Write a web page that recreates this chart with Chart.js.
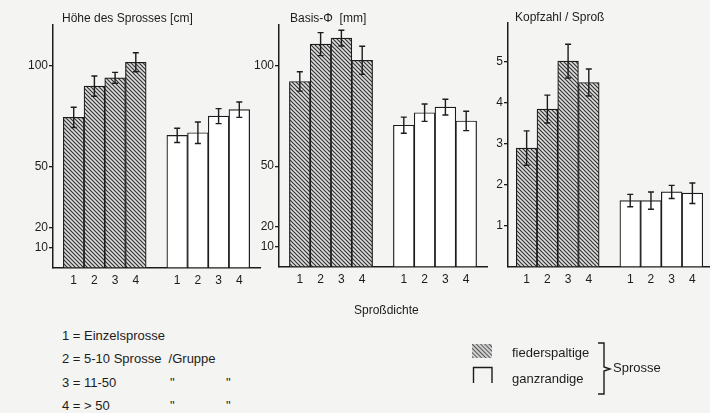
<!DOCTYPE html>
<html>
<head>
<meta charset="utf-8">
<script src="https://cdn.jsdelivr.net/npm/chart.js@4.4.1/dist/chart.umd.min.js"></script>
<style>
  body { margin:0; background:#f4f4f2; width:710px; height:413px; overflow:hidden; position:relative;
         font-family:"Liberation Sans", Arial, sans-serif; color:#1c1c1c; }
  canvas { position:absolute; top:0; }
  .t { position:absolute; font-size:12px; white-space:pre; line-height:14px; }
  .l { position:absolute; font-size:13px; white-space:pre; line-height:16px; }
  svg { position:absolute; left:0; top:0; }
</style>
</head>
<body>
<canvas id="c1" width="265" height="295" style="left:0"></canvas>
<canvas id="c2" width="265" height="295" style="left:226px"></canvas>
<canvas id="c3" width="240" height="295" style="left:470px"></canvas>

<div class="t" style="left:62px;top:11px">Höhe des Sprosses [cm]</div>
<div class="t" style="left:290px;top:11px">Basis-Φ  [mm]</div>
<div class="t" style="left:515px;top:10px">Kopfzahl / Sproß</div>

<div class="t" style="left:354px;top:303px">Sproßdichte</div>
<div class="l" style="left:62px;top:328px">1 = Einzelsprosse</div>
<div class="l" style="left:62px;top:351px">2 = 5-10 Sprosse  /Gruppe</div>
<div class="l" style="left:62px;top:375px">3 = 11-50</div>
<div class="l" style="left:170px;top:375px">"</div>
<div class="l" style="left:226px;top:375px">"</div>
<div class="l" style="left:62px;top:398px">4 = &gt; 50</div>
<div class="l" style="left:170px;top:398px">"</div>
<div class="l" style="left:226px;top:398px">"</div>

<svg width="710" height="413">
  <defs>
    <pattern id="hp" width="3" height="3" patternUnits="userSpaceOnUse" patternTransform="rotate(-45)">
      <rect width="3" height="3" fill="#d0d0d0"/>
      <line x1="0" y1="0" x2="0" y2="3" stroke="#222" stroke-width="1.4"/>
    </pattern>
  </defs>
  <rect x="472" y="344" width="20" height="14" fill="url(#hp)"/>
  <path d="M473.5 383 V367.5 H492 V383" fill="none" stroke="#1c1c1c" stroke-width="1.4"/>
  <path d="M598 343 H604 V367 L610 369 L604 371 V394 H598" fill="none" stroke="#1c1c1c" stroke-width="1.4"/>
</svg>
<div class="l" style="left:512px;top:345px">fiederspaltige</div>
<div class="l" style="left:512px;top:371px">ganzrandige</div>
<div class="l" style="left:613px;top:360px">Sprosse</div>

<script>
// Sproßdichte 1..4, fiederspaltige vs ganzrandige Sprosse
const densities = ['1', '2', '3', '4'];

const hoeheFieder = [74.4, 89.8, 93.9, 101.6];
const hoeheFiederErr = [5, 5, 2.7, 4.7];
const hoeheGanz = [65.5, 66.8, 75, 78.2];
const hoeheGanzErr = [3.5, 5.3, 3.7, 3.8];

const basisFieder = [92, 110.5, 113.5, 102.5];
const basisFiederErr = [4.8, 5.7, 3.9, 7];
const basisGanz = [70.3, 76.5, 79.3, 72.4];
const basisGanzErr = [4, 4.3, 3.9, 4.8];

const kopfFieder = [2.9, 3.85, 5.02, 4.5];
const kopfFiederErr = [0.42, 0.34, 0.41, 0.33];
const kopfGanz = [1.62, 1.62, 1.83, 1.8];
const kopfGanzErr = [0.15, 0.21, 0.16, 0.25];

const mmTicks = [10, 20, 50, 100];
const kopfTicks = [1, 2, 3, 4, 5];

const ink = '#1c1c1c';

function hatch() {
  const c = document.createElement('canvas');
  c.width = 4; c.height = 4;
  const g = c.getContext('2d');
  g.fillStyle = '#dedede';
  g.fillRect(0, 0, 4, 4);
  g.strokeStyle = '#333';
  g.lineWidth = 1.2;
  g.beginPath();
  g.moveTo(-1, -1); g.lineTo(5, 5);
  g.moveTo(-1, 3); g.lineTo(1, 5);
  g.moveTo(3, -1); g.lineTo(5, 1);
  g.stroke();
  return g.createPattern(c, 'repeat');
}
const hatchFill = hatch();

const errorBars = {
  id: 'errorBars',
  afterDatasetsDraw(chart) {
    const ctx = chart.ctx;
    const ys = chart.scales.y;
    chart.data.datasets.forEach((ds, di) => {
      chart.getDatasetMeta(di).data.forEach((bar, i) => {
        const v = ds.data[i].y, e = ds.errors[i];
        const top = ys.getPixelForValue(v + e);
        const bot = ys.getPixelForValue(v - e);
        ctx.save();
        ctx.strokeStyle = ink;
        ctx.lineWidth = 1.4;
        ctx.beginPath();
        ctx.moveTo(bar.x, top); ctx.lineTo(bar.x, bot);
        ctx.moveTo(bar.x - 3, top); ctx.lineTo(bar.x + 3, top);
        ctx.moveTo(bar.x - 3, bot); ctx.lineTo(bar.x + 3, bot);
        ctx.stroke();
        ctx.restore();
      });
    });
  }
};

function panel(id, fieder, fiederErr, ganz, ganzErr, yMax, yTicks, yWidth, xMin, xMax, padTop, padRight, xHeight) {
  // hatched group sits at x=1..4, open group at x=6..9
  const xPos = [1, 2, 3, 4, 6, 7, 8, 9];
  return new Chart(document.getElementById(id), {
    type: 'bar',
    data: {
      datasets: [
        {
          data: fieder.map((v, i) => ({ x: i + 1, y: v })),
          errors: fiederErr,
          backgroundColor: hatchFill,
          borderColor: ink,
          borderWidth: 1.2,
          borderSkipped: false
        },
        {
          data: ganz.map((v, i) => ({ x: i + 6, y: v })),
          errors: ganzErr,
          backgroundColor: '#ffffff',
          borderColor: ink,
          borderWidth: 1.2,
          borderSkipped: false
        }
      ]
    },
    options: {
      responsive: false,
      animation: false,
      grouped: false,
      barPercentage: 1,
      categoryPercentage: 1,
      layout: { padding: { top: padTop, right: padRight, left: 0, bottom: 0 } },
      plugins: { legend: { display: false }, tooltip: { enabled: false } },
      scales: {
        x: {
          type: 'linear',
          offset: false,
          min: xMin,
          max: xMax,
          grid: { display: false, offset: false, tickLength: 0 },
          border: { display: true, color: ink, width: 1.5 },
          ticks: {
            color: ink,
            font: { family: '"Liberation Sans", Arial, sans-serif', size: 12 },
            padding: 5,
            callback: (v, i) => densities[i % 4]
          },
          afterBuildTicks: (s) => { s.ticks = xPos.map(v => ({ value: v })); },
          afterFit: (s) => { s.height = xHeight; }
        },
        y: {
          min: 0,
          max: yMax,
          grid: { drawOnChartArea: false, drawTicks: true, tickLength: 4, color: ink, lineWidth: 1.3 },
          border: { display: true, color: ink, width: 1.5 },
          ticks: {
            color: ink,
            font: { family: '"Liberation Sans", Arial, sans-serif', size: 12 },
            padding: 1
          },
          afterBuildTicks: (s) => { s.ticks = yTicks.map(v => ({ value: v })); },
          afterFit: (s) => { s.width = yWidth; }
        }
      }
    },
    plugins: [errorBars]
  });
}

panel('c1', hoeheFieder, hoeheFiederErr, hoeheGanz, hoeheGanzErr, 120, mmTicks, 53, 0, 10, 25, 5, 27);
panel('c2', basisFieder, basisFiederErr, basisGanz, basisGanzErr, 120, mmTicks, 53, 0, 10, 25, 4, 28);
panel('c3', kopfFieder, kopfFiederErr, kopfGanz, kopfGanzErr, 5.95, kopfTicks, 38, 0.1, 9.85, 23, 0, 28);
</script>
</body>
</html>
